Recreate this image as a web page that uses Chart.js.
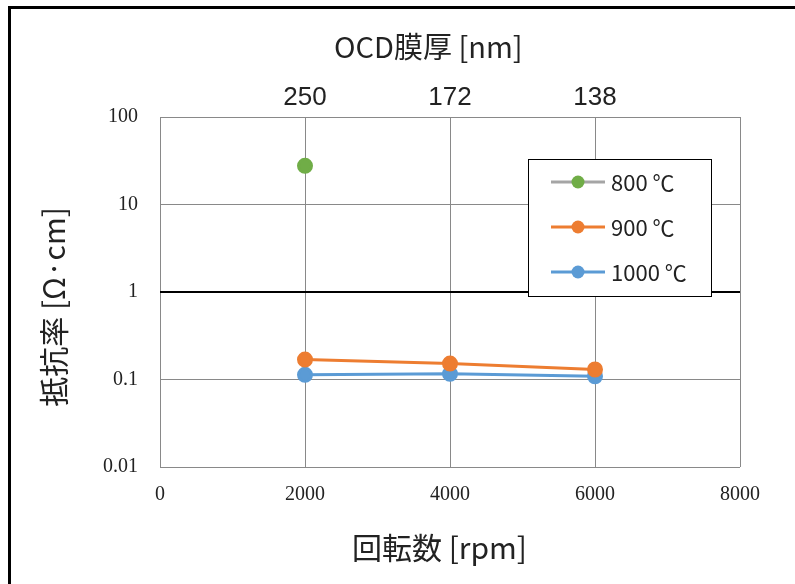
<!DOCTYPE html>
<html lang="ja">
<head>
  <meta charset="UTF-8" />
  <title>抵抗率</title>
  <script src="https://cdn.jsdelivr.net/npm/chart.js"></script>
  <style>
    * {
      margin: 0;
      padding: 0;
      box-sizing: border-box;
    }
    body {
      background: #fff;
      width: 795px;
      height: 584px;
      overflow: hidden;
      position: relative;
    }
    .frame {
      position: absolute;
      left: 8px;
      top: 6px;
      width: 900px;
      height: 700px;
      border: 3px solid #000;
    }
    canvas {
      position: absolute;
      left: 0;
      top: 0;
    }
  </style>
</head>
<body>
  <div class="frame"></div>
  <canvas id="chart" width="795" height="584"></canvas>

  <script>
    // rotation speed (rpm) and the matching OCD film thickness (nm)
    const rpm = [2000, 4000, 6000];
    const thickness = ['250', '172', '138'];

    // resistivity [Ω·cm]
    const r800 = [27.7];
    const r900 = [0.169, 0.152, 0.130];
    const r1000 = [0.113, 0.116, 0.109];

    const xTicks = [0, 2000, 4000, 6000, 8000];
    const yTicks = [0.01, 0.1, 1, 10, 100];

    const jp = '"Noto Sans CJK JP", "Noto Sans", sans-serif';
    const serif = '"Liberation Serif", "DejaVu Serif", serif';
    const sans = '"Liberation Sans", "Noto Sans", sans-serif';

    function pts(values) {
      return values.map((v, i) => ({ x: rpm[i], y: v }));
    }

    // legend drawn inside the plot, like the Excel original
    const boxLegend = {
      id: 'boxLegend',
      afterDraw(chart) {
        const c = chart.ctx;
        const a = chart.chartArea;
        const x0 = a.left + 368, y0 = a.top + 42, w = 183, h = 137;
        c.save();
        c.fillStyle = '#fff';
        c.fillRect(x0, y0, w, h);
        c.strokeStyle = '#000';
        c.lineWidth = 1;
        c.strokeRect(x0 + 0.5, y0 + 0.5, w, h);
        chart.data.datasets.forEach((ds, i) => {
          const y = y0 + 23 + i * 45;
          c.strokeStyle = ds.borderColor;
          c.lineWidth = 3;
          c.beginPath();
          c.moveTo(x0 + 23, y);
          c.lineTo(x0 + 77, y);
          c.stroke();
          c.fillStyle = ds.pointBackgroundColor;
          c.beginPath();
          c.arc(x0 + 50, y, 6.5, 0, Math.PI * 2);
          c.fill();
          c.fillStyle = '#222';
          c.font = '22px ' + jp;
          c.textBaseline = 'middle';
          c.fillText(ds.label, x0 + 83, y + 1);
        });
        c.restore();
      }
    };

    new Chart(document.getElementById('chart'), {
      type: 'line',
      data: {
        datasets: [
          {
            label: '800 ℃',
            data: pts(r800),
            borderColor: '#A5A5A5',
            backgroundColor: '#70AD47',
            pointBackgroundColor: '#70AD47',
            pointBorderColor: '#70AD47',
            borderWidth: 3,
            pointRadius: 6.5,
            xAxisID: 'x'
          },
          {
            label: '900 ℃',
            data: pts(r900),
            borderColor: '#ED7D31',
            backgroundColor: '#ED7D31',
            pointBackgroundColor: '#ED7D31',
            pointBorderColor: '#ED7D31',
            borderWidth: 3,
            pointRadius: 6.5,
            xAxisID: 'x'
          },
          {
            label: '1000 ℃',
            data: pts(r1000),
            borderColor: '#5B9BD5',
            backgroundColor: '#5B9BD5',
            pointBackgroundColor: '#5B9BD5',
            pointBorderColor: '#5B9BD5',
            borderWidth: 3,
            pointRadius: 6.5,
            xAxisID: 'x'
          }
        ]
      },
      options: {
        responsive: false,
        animation: false,
        layout: { padding: { left: 0, right: 55, top: 0, bottom: 0 } },
        plugins: {
          legend: { display: false },
          tooltip: { enabled: false }
        },
        scales: {
          x: {
            type: 'linear',
            position: 'bottom',
            min: 0,
            max: 8000,
            afterBuildTicks: s => { s.ticks = xTicks.map(v => ({ value: v })); },
            afterFit: s => { s.height = 117; },
            ticks: {
              color: '#222',
              font: { family: serif, size: 20 },
              padding: 16,
              callback: v => String(v)
            },
            grid: { color: '#898989', lineWidth: 1, drawTicks: false },
            border: { display: false },
            title: {
              display: true,
              // trailing spaces nudge the centred title a little to the left
              text: '回転数 [rpm]\u2009\u2002',
              color: '#222',
              font: { family: jp, size: 30 },
              padding: { top: 0, bottom: 18 }
            }
          },
          x2: {
            type: 'linear',
            position: 'top',
            min: 0,
            max: 8000,
            afterBuildTicks: s => { s.ticks = rpm.map(v => ({ value: v })); },
            afterFit: s => { s.height = 117; },
            ticks: {
              color: '#222',
              font: { family: sans, size: 26 },
              padding: 4,
              callback: (v, i) => thickness[i]
            },
            grid: { display: false, drawTicks: false },
            border: { display: false },
            title: {
              display: true,
              text: 'OCD膜厚 [nm]\u3000\u2002',
              color: '#222',
              font: { family: jp, size: 29 },
              padding: { top: 30, bottom: 0 }
            }
          },
          y: {
            type: 'logarithmic',
            min: 0.01,
            max: 100,
            afterBuildTicks: s => { s.ticks = yTicks.map(v => ({ value: v })); },
            afterFit: s => { s.width = 160; },
            ticks: {
              color: '#222',
              font: { family: serif, size: 20 },
              padding: 22,
              callback: v => String(v)
            },
            grid: {
              drawTicks: false,
              color: c => (c.tick && c.tick.value === 1 ? '#000' : '#898989'),
              lineWidth: c => (c.tick && c.tick.value === 1 ? 2 : 1)
            },
            border: { display: false },
            title: {
              display: true,
              text: '抵抗率 [Ω·cm]\u3000',
              color: '#222',
              font: { family: jp, size: 30 },
              padding: { top: 36, bottom: 0 }
            }
          }
        }
      },
      plugins: [boxLegend]
    });
  </script>
</body>
</html>
